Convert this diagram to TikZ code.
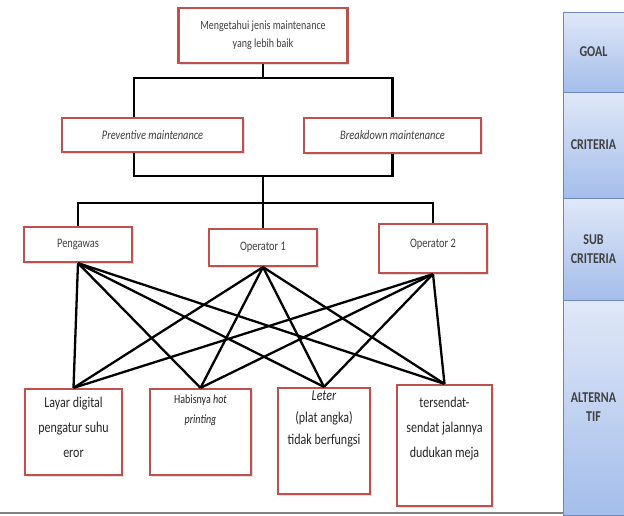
\documentclass[tikz,border=0pt]{standalone}
\usepackage{fontspec}
\setmainfont[FakeStretch=0.8]{Carlito}
\usetikzlibrary{shadows}
\definecolor{boxred}{RGB}{192,80,77}
\definecolor{txtgray}{RGB}{64,64,64}
\definecolor{celltop}{RGB}{224,232,248}
\definecolor{cellbot}{RGB}{164,189,234}
\definecolor{cellline}{RGB}{112,136,184}
\tikzset{
  hbox/.style={draw=boxred, line width=2.2pt, fill=white, inner sep=0pt,
    align=center, text=txtgray,
    drop shadow={shadow xshift=1.5pt, shadow yshift=-1.5pt, opacity=0.25}},
  alttext/.style={align=center, text=black!85, inner sep=0pt},
  tree/.style={line width=2.6pt},
  cell/.style={draw=cellline, line width=0.8pt, top color=celltop, bottom color=cellbot,
    minimum width=61pt, inner sep=0pt, align=center, text=txtgray,
    font=\bfseries\fontsize{15}{19}\selectfont}
}
\begin{document}
\begin{tikzpicture}[x=1pt,y=-1pt]
      \useasboundingbox (0,0) rectangle (624,515);
      \node[hbox, minimum width=169pt, minimum height=55pt,
        font=\fontsize{12.5}{18}\selectfont] (goal) at (263,35.5)
        {Mengetahui jenis maintenance\\yang lebih baik};
      \node[hbox, minimum width=181pt, minimum height=34pt,
        font=\itshape\fontsize{13}{14}\selectfont] (prev) at (152.5,135) {Preventive maintenance};
      \node[hbox, minimum width=177pt, minimum height=35pt,
        font=\itshape\fontsize{13}{14}\selectfont] (brk) at (392.5,135.5) {Breakdown maintenance};
      \node[hbox, minimum width=108pt, minimum height=35pt,
        font=\fontsize{13}{14}\selectfont] (peng) at (78,244.5) {Pengawas};
      \node[hbox, minimum width=108pt, minimum height=37pt,
        font=\fontsize{13}{14}\selectfont] (op1) at (263,247.5) {Operator 1};
      \node[hbox, minimum width=108pt, minimum height=49pt,
        font=\fontsize{13}{14}\selectfont, text depth=10pt] (op2) at (433,248.5) {Operator 2};
      \node[hbox, minimum width=97pt, minimum height=86pt] (alt1) at (73.5,432) {};
      \node[hbox, minimum width=101pt, minimum height=86pt] (alt2) at (200.5,432) {};
      \node[hbox, minimum width=92pt, minimum height=106pt] (alt3) at (324,441) {};
      \node[hbox, minimum width=95pt, minimum height=121pt] (alt4) at (444.5,445.5) {};
      \node[alttext, font=\fontsize{15}{25}\selectfont] (alt1t) at ([yshift=5pt]alt1.center)
        {Layar digital\\pengatur suhu\\eror};
      \node[alttext, font=\fontsize{12.5}{20}\selectfont] (alt2t) at ([yshift=22pt]alt2.center)
        {Habisnya \textit{hot}\\\textit{printing}};
      \node[alttext, font=\fontsize{15}{22}\selectfont] (alt3t) at ([yshift=22pt]alt3.center)
        {\textit{Leter}\\(plat angka)\\tidak berfungsi};
      \node[alttext, font=\fontsize{15}{25}\selectfont] (alt4t) at ([yshift=17pt]alt4.center)
        {tersendat-\\sendat jalannya\\dudukan meja};
      \coordinate (xl) at (134,0);
      \coordinate (j1) at (263,78);
      \coordinate (j2) at (263,176);
      \coordinate (j3) at (263,203);
      \begin{scope}[tree]
        \draw (goal.south) -- (j1);
        \draw (prev.north -| xl) |- (j1) -| (brk.north);
        \draw (prev.south -| xl) |- (j2) -| (brk.south);
        \draw (j2) -- (j3);
        \draw (peng.north) |- (j3) -| (op2.north);
        \draw (j3) -- (op1.north);
      \end{scope}
      \begin{scope}[line width=2.3pt]
        \draw (peng.south) to (alt1.north);
        \draw (peng.south) to (alt2.north);
        \draw (peng.south) to (alt3.north);
        \draw (peng.south) to (alt4.north);
        \draw (op1.south) to (alt1.north);
        \draw (op1.south) to (alt2.north);
        \draw (op1.south) to (alt3.north);
        \draw (op1.south) to (alt4.north);
        \draw (op2.south) to (alt1.north);
        \draw (op2.south) to (alt2.north);
        \draw (op2.south) to (alt3.north);
        \draw (op2.south) to (alt4.north);
      \end{scope}
      \draw[gray, line width=2pt] (0,513) -- (563,513);
      \node[cell, minimum height=80pt] (goalcell) at (593.5,52) {GOAL};
      \node[cell, minimum height=106pt] (critcell) at (593.5,145) {CRITERIA};
      \node[cell, minimum height=102pt] (subcell) at (593.5,249) {SUB\\CRITERIA};
      \node[cell, minimum height=215pt] (altcell) at (593.5,407.5) {ALTERNA\\TIF};
    \end{tikzpicture}
\end{document}
